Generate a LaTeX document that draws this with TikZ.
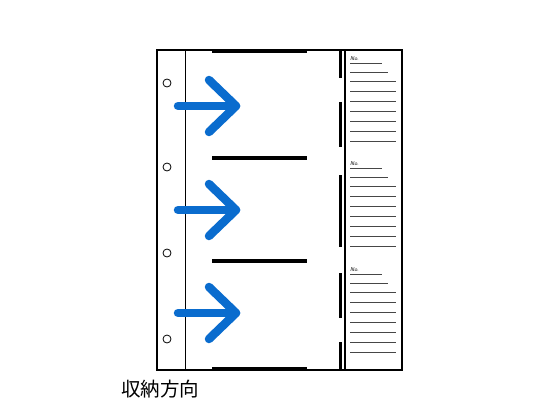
\documentclass[tikz,border=0pt]{standalone}
\usepackage{fontspec}
\newfontfamily\cjk{Noto Sans CJK JP}
\definecolor{arrowblue}{RGB}{10,108,206}
\definecolor{ruleg}{RGB}{70,70,70}
\begin{document}
\begin{tikzpicture}[x=1pt,y=-1pt,
  frame/.style={draw=black,line width=2pt},
  thinline/.style={draw=black,line width=1pt},
  heavybar/.style={draw=black,line width=4pt},
  tabbar/.style={draw=black,line width=3pt},
  hole/.style={draw=black,line width=0.8pt,fill=white},
  ruled/.style={draw=ruleg,line width=1.1pt},
  bigarrow/.style={draw=arrowblue,line width=8.5pt,line cap=round,line join=round},
  nolabel/.style={font=\fontsize{5.5}{6}\selectfont\sffamily,inner sep=0pt,anchor=south west}]
\useasboundingbox (0,0) rectangle (560,420);
% outer frame
\draw[frame] (157,50) rectangle (402,370);
% binding line
\draw[thinline] (185,50) -- (185,370);
% right panel separator
\draw[line width=1.5pt] (345,50) -- (345,370);
% horizontal heavy bars
\foreach \y in {51,158,261,369}{
  \draw[heavybar] (212,\y) -- (307,\y);
}
% tab bars
\foreach \a/\b in {50/78,102/147,175/247,273/318,342/370}{
  \draw[tabbar] (340.5,\a) -- (340.5,\b);
}
% holes
\foreach \y [count=\i] in {83,167,253,339}{
  \draw[hole] (167,\y) circle (4);
}
% index panel
\foreach \o [count=\i] in {0,105,211}{
  \node[nolabel] (no\i) at (350,61+\o) {\textit{No.}};
  \draw[ruled] (350,63.5+\o) -- (382,63.5+\o);
  \draw[ruled] (350,72.5+\o) -- (388,72.5+\o);
  \foreach \k in {0,...,6}{
    \draw[ruled] (350,81.5+\o+10*\k) -- (396,81.5+\o+10*\k);
  }
}
% arrows
\foreach \y in {106,210,313}{
  \draw[bigarrow] (178,\y) -- (236,\y);
  \draw[bigarrow] (209,\y-26) -- (236,\y) -- (209,\y+26);
}
% label
\node[font=\cjk\fontsize{19.5}{19.5}\selectfont,inner sep=0pt] (label) at (160,389) {収納方向};
\end{tikzpicture}
\end{document}
